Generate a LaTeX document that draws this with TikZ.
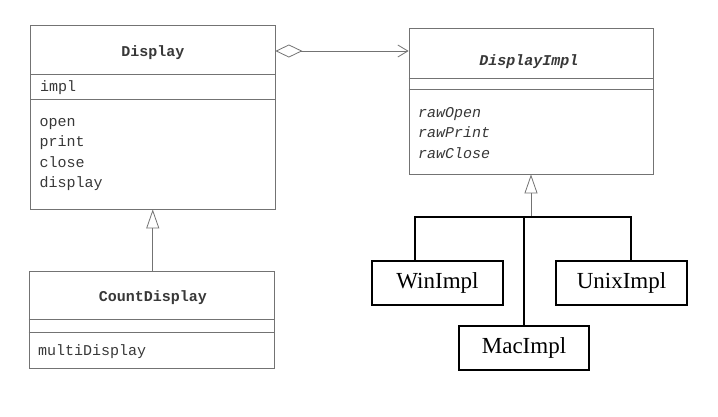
\documentclass[tikz,border=0pt]{standalone}
\usepackage{fontspec}
\setmainfont{Liberation Serif}
\setmonofont{Liberation Mono}
\usetikzlibrary{arrows.meta}
\definecolor{umlline}{gray}{0.45}
\definecolor{umltext}{gray}{0.22}
\tikzset{
  umlbox/.style={draw=umlline, line width=0.8pt, inner sep=0pt},
  umldiv/.style={draw=umlline, line width=0.8pt},
  umltitle/.style={text=umltext, font=\fontsize{15}{18}\selectfont\ttfamily\bfseries, inner sep=0pt},
  umlitem/.style={text=umltext, font=\fontsize{15}{20.5}\selectfont\ttfamily, inner sep=0pt, anchor=north west, align=left},
  implbox/.style={draw=black, line width=1.6pt, minimum width=131pt, minimum height=44pt, inner sep=0pt, font=\fontsize{23}{26}\selectfont},
  inh/.style={draw=umlline, line width=0.8pt, -{Triangle[open,length=19pt,width=13pt]}},
  aggr/.style={draw=umlline, line width=0.8pt, {Diamond[open,length=27pt,width=13pt]}-{Straight Barb[length=10pt,width=12pt]}},
  wire/.style={draw=black, line width=1.6pt},
}
\begin{document}
\begin{tikzpicture}[x=1pt,y=-1pt]
\useasboundingbox (0,0) rectangle (718,416);
% Display
\node[umlbox, minimum width=244.5pt, minimum height=184pt] (display) at (152.75,117) {};
\node[umltitle] (dtitle) at (153,52.5) {Display};
\draw[umldiv] (display.west |- 0,74) -- (display.east |- 0,74);
\draw[umldiv] (display.west |- 0,99) -- (display.east |- 0,99);
\node[umlitem] (dfield) at (40,80) {impl};
\node[umlitem] (dops) at (39.5,118) {open\\print\\close\\display};
% DisplayImpl
\node[umlbox, minimum width=244pt, minimum height=146pt] (impl) at (531,101) {};
\node[umltitle, font=\fontsize{15}{18}\selectfont\ttfamily\bfseries\itshape] (ititle) at (529,61.5) {DisplayImpl};
\draw[umldiv] (impl.west |- 0,78) -- (impl.east |- 0,78);
\draw[umldiv] (impl.west |- 0,89) -- (impl.east |- 0,89);
\node[umlitem, font=\fontsize{15}{20.5}\selectfont\ttfamily\itshape] (iops) at (418,107) {rawOpen\\rawPrint\\rawClose};
% CountDisplay
\node[umlbox, minimum width=245pt, minimum height=97pt] (count) at (151.5,319.5) {};
\node[umltitle] (ctitle) at (153,297.5) {CountDisplay};
\draw[umldiv] (count.west |- 0,319) -- (count.east |- 0,319);
\draw[umldiv] (count.west |- 0,332) -- (count.east |- 0,332);
\node[umlitem] (cops) at (38,344) {multiDisplay};
% implementations
\node[implbox] (win) at (437.5,283) {WinImpl};
\node[implbox] (unix) at (621.5,283) {UnixImpl};
\node[implbox, minimum width=130pt] (mac) at (524,348) {MacImpl};
% connectors
\draw[aggr] (display.east |- 0,51) -- (impl.west |- 0,51);
\draw[inh] (count.north -| display.south) -- (display.south);
\coordinate (bar) at (524,217);
\coordinate (wtop) at ([xshift=44pt]win.north west);
\coordinate (utop) at ([xshift=76pt]unix.north west);
\draw[inh] (impl.south |- bar) -- (impl.south);
\draw[wire] (wtop) |- (bar) -| (utop);
\draw[wire] (mac.north) -- (bar);
\end{tikzpicture}
\end{document}
